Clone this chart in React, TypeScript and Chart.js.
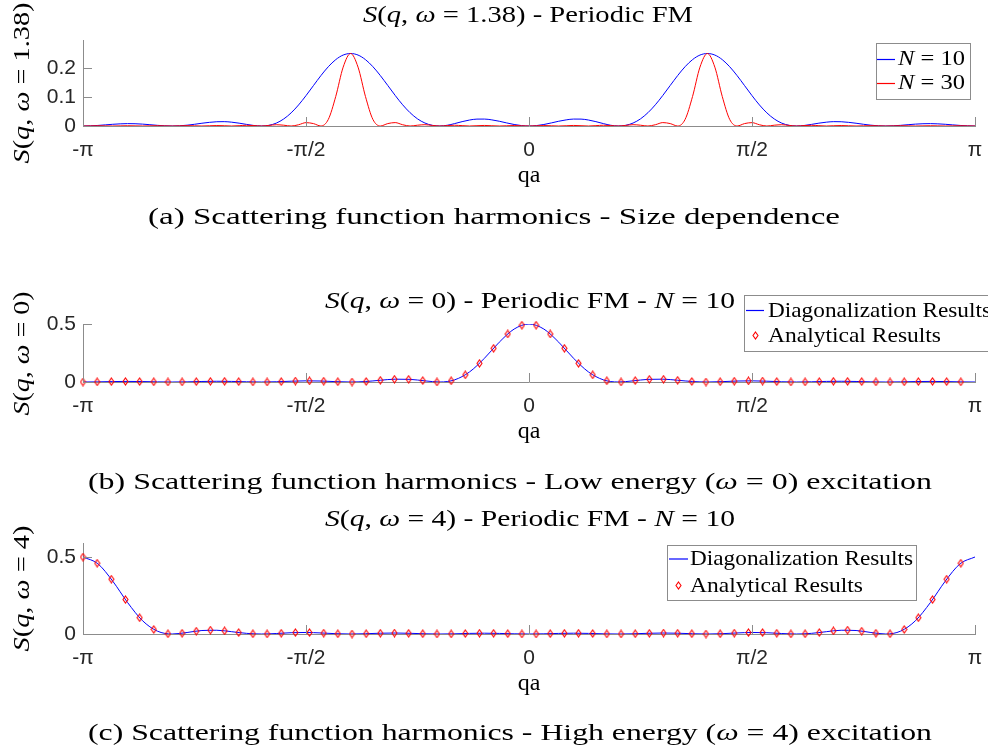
import React, { useEffect, useRef } from "react";
import { Chart, registerables } from "chart.js";

Chart.register(...registerables);

const PI = Math.PI;

// ---------------- data ----------------
// x ticks shared by the three panels
const xTickValues = [-PI, -PI / 2, 0, PI / 2, PI];
const xTickLabels = ["-π", "-π/2", "0", "π/2", "π"];

// (a) S(q, ω = 1.38), sampled at q = -π + i·π/60 (i = 0..120)
const stepA = PI / 60;
const sA_N10 = [
  0, 0.0006, 0.0019, 0.0039, 0.0059, 0.0074, 0.0082, 0.0078, 0.0065, 0.0045, 0.0023, 0.0007,
  0, 0.0007, 0.0028, 0.0059, 0.0095, 0.0126, 0.0147, 0.015, 0.0132, 0.0098, 0.0055, 0.0017,
  0, 0.0023, 0.0099, 0.0242, 0.0453, 0.0726, 0.1048, 0.1393, 0.1736, 0.2044, 0.2289, 0.2447,
  0.25, 0.2447, 0.2289, 0.2046, 0.1739, 0.1398, 0.1054, 0.0732, 0.0459, 0.0246, 0.0102, 0.0023,
  0, 0.0025, 0.0083, 0.015, 0.0206, 0.0238, 0.0239, 0.0211, 0.0164, 0.0106, 0.0052, 0.0014,
  0,
  0.0014, 0.0052, 0.0106, 0.0164, 0.0211, 0.0239, 0.0238, 0.0206, 0.015, 0.0083, 0.0025, 0,
  0.0023, 0.0102, 0.0246, 0.0459, 0.0732, 0.1054, 0.1398, 0.1739, 0.2046, 0.2289, 0.2447, 0.25,
  0.2447, 0.2289, 0.2044, 0.1736, 0.1393, 0.1048, 0.0726, 0.0453, 0.0242, 0.0099, 0.0023, 0,
  0.0017, 0.0055, 0.0098, 0.0132, 0.015, 0.0147, 0.0126, 0.0095, 0.0059, 0.0028, 0.0007, 0,
  0.0007, 0.0023, 0.0045, 0.0065, 0.0078, 0.0082, 0.0074, 0.0059, 0.0039, 0.0019, 0.0006, 0,
];
const sA_N30 = [
  0, 0.0004, 0.0009, 0.0004, 0, 0.0004, 0.0009, 0.0004, 0, 0.0005, 0.001, 0.0005,
  0, 0.0006, 0.0012, 0.0007, 0, 0.0008, 0.0016, 0.0009, 0, 0.0011, 0.0024, 0.0014,
  0, 0.0019, 0.0044, 0.0027, 0, 0.0043, 0.0116, 0.0083, 0, 0.0227, 0.1017, 0.203,
  0.25, 0.203, 0.1017, 0.0227, 0, 0.0083, 0.0117, 0.0044, 0, 0.0027, 0.0045, 0.0019,
  0, 0.0015, 0.0026, 0.0012, 0, 0.001, 0.0019, 0.0009, 0, 0.0008, 0.0016, 0.0008,
  0,
  0.0008, 0.0016, 0.0008, 0, 0.0009, 0.0019, 0.001, 0, 0.0012, 0.0026, 0.0015, 0,
  0.0019, 0.0045, 0.0027, 0, 0.0044, 0.0117, 0.0083, 0, 0.0227, 0.1017, 0.203, 0.25,
  0.203, 0.1017, 0.0227, 0, 0.0083, 0.0116, 0.0043, 0, 0.0027, 0.0044, 0.0019, 0,
  0.0014, 0.0024, 0.0011, 0, 0.0009, 0.0016, 0.0008, 0, 0.0007, 0.0012, 0.0006, 0,
  0.0005, 0.001, 0.0005, 0, 0.0004, 0.0009, 0.0004, 0, 0.0004, 0.0009, 0.0004, 0,
];
const yTicksA = [0, 0.1, 0.2];

// (b) and (c): diagonalization curve at q = -π + i·π/30 (i = 0..60),
// analytical markers at q = -π + j·2π/63 (j = 0..62)
const stepLine = PI / 30;
const stepMarker = (2 * PI) / 63;
const sB_diag = [
  0, 0.0013, 0.0038, 0.0051, 0.0039, 0.0013, 0, 0.0014, 0.0045, 0.0063, 0.005, 0.0018,
  0, 0.0021, 0.0068, 0.01, 0.0084, 0.0032, 0, 0.0042, 0.015, 0.0243, 0.0227, 0.0097,
  0, 0.0187, 0.0868, 0.2043, 0.3432, 0.4564, 0.5, 0.4564, 0.3432, 0.2043, 0.0868, 0.0187,
  0, 0.0097, 0.0227, 0.0243, 0.015, 0.0042, 0, 0.0032, 0.0084, 0.01, 0.0068, 0.0021,
  0, 0.0018, 0.005, 0.0063, 0.0045, 0.0014, 0, 0.0013, 0.0039, 0.0051, 0.0038, 0.0013, 0,
];
const sB_analytic = [
  0, 0.0011, 0.0036, 0.0051, 0.0043, 0.0019, 0.0001, 0.0007, 0.0033, 0.0059, 0.006, 0.0035,
  0.0006, 0.0003, 0.0035, 0.0081, 0.0101, 0.0075, 0.0024, 0, 0.0046, 0.015, 0.024, 0.0234,
  0.0119, 0.0005, 0.0103, 0.0617, 0.1608, 0.2906, 0.4142, 0.4899, 0.4899, 0.4142, 0.2906, 0.1608,
  0.0617, 0.0103, 0.0005, 0.0119, 0.0234, 0.024, 0.015, 0.0046, 0, 0.0024, 0.0075, 0.0101,
  0.0081, 0.0035, 0.0003, 0.0006, 0.0035, 0.006, 0.0059, 0.0033, 0.0007, 0.0001, 0.0019, 0.0043,
  0.0051, 0.0036, 0.0011,
];
const yTicksB = [0, 0.5];

const sC_diag = [
  0.5, 0.4564, 0.3432, 0.2043, 0.0868, 0.0187, 0, 0.0097, 0.0227, 0.0243, 0.015, 0.0042,
  0, 0.0032, 0.0084, 0.01, 0.0068, 0.0021, 0, 0.0018, 0.005, 0.0063, 0.0045, 0.0014,
  0, 0.0013, 0.0039, 0.0051, 0.0038, 0.0013, 0, 0.0013, 0.0038, 0.0051, 0.0039, 0.0013,
  0, 0.0014, 0.0045, 0.0063, 0.005, 0.0018, 0, 0.0021, 0.0068, 0.01, 0.0084, 0.0032,
  0, 0.0042, 0.015, 0.0243, 0.0227, 0.0097, 0, 0.0187, 0.0868, 0.2043, 0.3432, 0.4564, 0.5,
];
const sC_analytic = [
  0.5, 0.4601, 0.356, 0.2238, 0.1058, 0.0299, 0.0013, 0.005, 0.0186, 0.0252, 0.0203, 0.0094,
  0.0014, 0.0005, 0.005, 0.0094, 0.0096, 0.0059, 0.0015, 0, 0.0019, 0.005, 0.0063, 0.0048,
  0.0018, 0.0001, 0.0008, 0.0032, 0.005, 0.0046, 0.0023, 0.0003, 0.0003, 0.0023, 0.0046, 0.005,
  0.0032, 0.0008, 0.0001, 0.0018, 0.0048, 0.0063, 0.005, 0.0019, 0, 0.0015, 0.0059, 0.0096,
  0.0094, 0.005, 0.0005, 0.0014, 0.0094, 0.0203, 0.0252, 0.0186, 0.005, 0.0013, 0.0299, 0.1058,
  0.2238, 0.356, 0.4601,
];
const yTicksC = [0, 0.5];

// ---------------- styling ----------------
const SERIF = '"Liberation Serif", "Times New Roman", serif';
const SANS = '"Liberation Sans", Arial, Helvetica, sans-serif';
const AXIS = "#8c8c8c";
const TICK_TEXT = "#262626";
const BLUE = "#0000ff";
const RED = "#ff0000";

type Seg = [string, number];

const toPoints = (ys: number[], step: number) => ys.map((y, i) => ({ x: -PI + i * step, y }));

function drawRich(ctx: CanvasRenderingContext2D, segs: Seg[], x: number, y: number, size: number, align: string, target?: number, rotate?: boolean) {
  const widths: number[] = [];
  let w = 0;
  for (const [t, it] of segs) {
    ctx.font = `${it ? "italic " : ""}${size}px ${SERIF}`;
    const m = ctx.measureText(t).width;
    widths.push(m);
    w += m;
  }
  const sx = target ? target / w : 1;
  ctx.save();
  ctx.translate(x, y);
  if (rotate) ctx.rotate(-Math.PI / 2);
  ctx.scale(sx, 1);
  let cx = align === "center" ? -w / 2 : 0;
  ctx.textBaseline = "alphabetic";
  ctx.textAlign = "left";
  ctx.fillStyle = "#000";
  segs.forEach(([t, it], i) => {
    ctx.font = `${it ? "italic " : ""}${size}px ${SERIF}`;
    ctx.fillText(t, cx, 0);
    cx += widths[i];
  });
  ctx.restore();
}

function makeDiamond(): HTMLCanvasElement {
  const c = document.createElement("canvas");
  c.width = 7;
  c.height = 9;
  const g = c.getContext("2d")!;
  g.strokeStyle = RED;
  g.lineWidth = 1.1;
  g.beginPath();
  g.moveTo(3.5, 1);
  g.lineTo(6, 4.5);
  g.lineTo(3.5, 8);
  g.lineTo(1, 4.5);
  g.closePath();
  g.stroke();
  return c;
}

function buildPanels(diamond: HTMLCanvasElement) {
  const lineDs = (label: string, ys: number[], step: number, color: string, order: number) => ({
    label,
    data: toPoints(ys, step),
    borderColor: color,
    backgroundColor: color,
    borderWidth: 1,
    pointRadius: 0,
    cubicInterpolationMode: "monotone",
    fill: false,
    order,
  });
  const markerDs = (label: string, ys: number[]) => ({
    label,
    data: toPoints(ys, stepMarker),
    showLine: false,
    pointStyle: diamond,
    pointRadius: 4,
    borderColor: RED,
    backgroundColor: RED,
    clip: false,
    order: 0,
  });
  const sq = (w: string): Seg[] => [["S", 1], ["(", 0], ["q", 1], [", ", 0], ["ω", 1], [w, 0]];
  return [
    {
      top: 0, height: 250, area: { top: 40, bottom: 126 }, ymax: 0.2966, yTicks: yTicksA,
      datasets: [lineDs("N = 30", sA_N30, stepA, RED, 0), lineDs("N = 10", sA_N10, stepA, BLUE, 1)],
      texts: [
        { segs: [...sq(" = 1.38) - Periodic FM")], x: 528, y: 22, size: 24, align: "center", w: 330 },
        { segs: sq(" = 1.38)"), x: 28.5, y: 83, size: 24, align: "center", w: 161, rot: true },
        { segs: [["qa", 0]], x: 529, y: 182, size: 24, align: "center" },
        { segs: [["(a) Scattering function harmonics - Size dependence", 0]], x: 494, y: 224, size: 24, align: "center", w: 692 },
      ],
      legend: {
        x0: 876, y0: 43, x1: 970, y1: 99, lineX0: 877, lineX1: 895, textX: 898, size: 21,
        rows: [
          { kind: "line", color: BLUE, segs: [["N", 1], [" = 10", 0]] as Seg[], y: 59.5, ty: 65, w: 67 },
          { kind: "line", color: RED, segs: [["N", 1], [" = 30", 0]] as Seg[], y: 83.5, ty: 89, w: 67 },
        ],
      },
      diamond,
    },
    {
      top: 250, height: 250, area: { top: 74, bottom: 132 }, ymax: 0.5, yTicks: yTicksB,
      datasets: [markerDs("Analytical Results", sB_analytic), lineDs("Diagonalization Results", sB_diag, stepLine, BLUE, 1)],
      texts: [
        { segs: [...sq(" = 0) - Periodic FM - "), ["N", 1], [" = 10", 0]] as Seg[], x: 530, y: 58, size: 24, align: "center", w: 410 },
        { segs: sq(" = 0)"), x: 28.5, y: 103.5, size: 24, align: "center", w: 124, rot: true },
        { segs: [["qa", 0]], x: 529, y: 188, size: 24, align: "center" },
        { segs: [["(b) Scattering function harmonics - Low energy (", 0], ["ω", 1], [" = 0) excitation", 0]] as Seg[], x: 510, y: 239, size: 24, align: "center", w: 844 },
      ],
      legend: {
        x0: 744, y0: 45, x1: 1000, y1: 101, lineX0: 746, lineX1: 764, textX: 768, size: 22,
        rows: [
          { kind: "line", color: BLUE, segs: [["Diagonalization Results", 0]] as Seg[], y: 60.5, ty: 66.5, w: 223 },
          { kind: "marker", color: RED, segs: [["Analytical Results", 0]] as Seg[], y: 85, ty: 91.5, w: 173 },
        ],
      },
      diamond,
    },
    {
      top: 500, height: 255, area: { top: 43, bottom: 134 }, ymax: 0.591, yTicks: yTicksC,
      datasets: [markerDs("Analytical Results", sC_analytic), lineDs("Diagonalization Results", sC_diag, stepLine, BLUE, 1)],
      texts: [
        { segs: [...sq(" = 4) - Periodic FM - "), ["N", 1], [" = 10", 0]] as Seg[], x: 530, y: 26, size: 24, align: "center", w: 410 },
        { segs: sq(" = 4)"), x: 28.5, y: 88.5, size: 24, align: "center", w: 126, rot: true },
        { segs: [["qa", 0]], x: 529, y: 190, size: 24, align: "center" },
        { segs: [["(c) Scattering function harmonics - High energy (", 0], ["ω", 1], [" = 4) excitation", 0]] as Seg[], x: 510, y: 240, size: 24, align: "center", w: 844 },
      ],
      legend: {
        x0: 667, y0: 45, x1: 916, y1: 100, lineX0: 669, lineX1: 688, textX: 690, size: 22,
        rows: [
          { kind: "line", color: BLUE, segs: [["Diagonalization Results", 0]] as Seg[], y: 59, ty: 65, w: 223 },
          { kind: "marker", color: RED, segs: [["Analytical Results", 0]] as Seg[], y: 85, ty: 91.5, w: 173 },
        ],
      },
      diamond,
    },
  ];
}

function figurePlugin(p: any) {
  return {
    id: "figureDecor",
    afterDraw(chart: any) {
      const ctx: CanvasRenderingContext2D = chart.ctx;
      const ca = chart.chartArea;
      const xs = chart.scales.x;
      const ys = chart.scales.y;
      ctx.save();
      // inward tick marks
      ctx.strokeStyle = AXIS;
      ctx.lineWidth = 1;
      ctx.beginPath();
      for (const v of xTickValues) {
        const px = Math.round(xs.getPixelForValue(v)) + 0.5;
        ctx.moveTo(px, ca.bottom);
        ctx.lineTo(px, ca.bottom - 9);
      }
      for (const v of p.yTicks) {
        const py = Math.round(ys.getPixelForValue(v)) + 0.5;
        ctx.moveTo(ca.left, py);
        ctx.lineTo(ca.left + 9, py);
      }
      ctx.stroke();
      // texts
      for (const t of p.texts) drawRich(ctx, t.segs, t.x, t.y, t.size, t.align, t.w, t.rot);
      // legend
      const L = p.legend;
      ctx.fillStyle = "#fff";
      ctx.fillRect(L.x0, L.y0, L.x1 - L.x0, L.y1 - L.y0);
      ctx.strokeStyle = AXIS;
      ctx.lineWidth = 1;
      ctx.strokeRect(L.x0 + 0.5, L.y0 + 0.5, L.x1 - L.x0, L.y1 - L.y0);
      for (const r of L.rows) {
        if (r.kind === "line") {
          ctx.save();
          ctx.strokeStyle = r.color;
          ctx.lineWidth = 1.2;
          ctx.beginPath();
          ctx.moveTo(L.lineX0, r.y);
          ctx.lineTo(L.lineX1, r.y);
          ctx.stroke();
          ctx.restore();
        } else {
          ctx.drawImage(p.diamond, Math.round((L.lineX0 + L.lineX1) / 2 - 3.5), Math.round(r.y - 4.5));
        }
        drawRich(ctx, r.segs, L.textX, r.ty, L.size, "left", r.w);
      }
      ctx.restore();
    },
  };
}

function makeConfig(p: any): any {
  return {
    type: "line",
    data: { datasets: p.datasets },
    options: {
      responsive: false,
      maintainAspectRatio: false,
      animation: false,
      devicePixelRatio: 1,
      events: [],
      layout: { padding: { left: 0, right: 13, top: p.area.top, bottom: 0 } },
      plugins: { legend: { display: false }, tooltip: { enabled: false }, title: { display: false } },
      scales: {
        x: {
          type: "linear",
          min: -PI,
          max: PI,
          grid: { display: false, drawTicks: false },
          border: { display: true, color: AXIS, width: 1 },
          ticks: {
            font: { family: SANS, size: 21 },
            color: TICK_TEXT,
            padding: 12,
            maxRotation: 0,
            minRotation: 0,
            autoSkip: false,
            callback: (v: number) => {
              const i = xTickValues.findIndex((t) => Math.abs(t - v) < 1e-6);
              return i >= 0 ? xTickLabels[i] : "";
            },
          },
          afterBuildTicks: (s: any) => {
            s.ticks = xTickValues.map((v) => ({ value: v }));
          },
          afterFit: (s: any) => {
            s.height = p.height - p.area.bottom;
            s.paddingLeft = 0;
            s.paddingRight = 0;
          },
        },
        y: {
          type: "linear",
          min: 0,
          max: p.ymax,
          grid: { display: false, drawTicks: false },
          border: { display: true, color: AXIS, width: 1 },
          ticks: {
            font: { family: SANS, size: 21 },
            color: TICK_TEXT,
            padding: 7,
            autoSkip: false,
            callback: (v: number) => String(v),
          },
          afterBuildTicks: (s: any) => {
            s.ticks = p.yTicks.map((v: number) => ({ value: v }));
          },
          afterFit: (s: any) => {
            s.width = 83;
            s.paddingTop = 0;
            s.paddingBottom = 0;
          },
        },
      },
    },
    plugins: [figurePlugin(p)],
  };
}

export default function App() {
  const refA = useRef<HTMLCanvasElement>(null);
  const refB = useRef<HTMLCanvasElement>(null);
  const refC = useRef<HTMLCanvasElement>(null);

  useEffect(() => {
    const diamond = makeDiamond();
    const panels = buildPanels(diamond);
    const canvases = [refA.current, refB.current, refC.current];
    const charts = panels.map((p, i) => new Chart(canvases[i] as HTMLCanvasElement, makeConfig(p)));
    return () => charts.forEach((c) => c.destroy());
  }, []);

  const cs = (top: number, h: number): React.CSSProperties => ({ position: "absolute", left: 0, top, width: 988, height: h });

  return (
    <div style={{ position: "absolute", left: 0, top: 0, width: 988, height: 755, background: "#ffffff", overflow: "hidden" }}>
      <canvas ref={refA} width={988} height={250} style={cs(0, 250)} />
      <canvas ref={refB} width={988} height={250} style={cs(250, 250)} />
      <canvas ref={refC} width={988} height={255} style={cs(500, 255)} />
    </div>
  );
}
